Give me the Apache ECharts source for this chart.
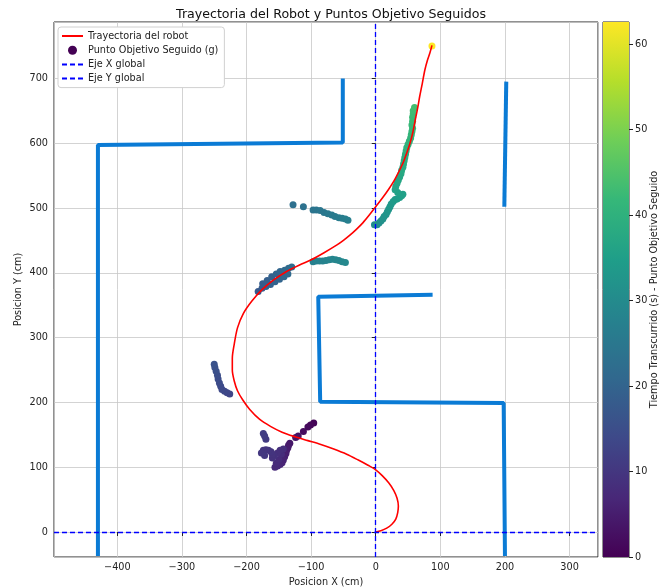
<!DOCTYPE html>
<html lang="es">

<head>
  <meta charset="UTF-8">
  <title>Trayectoria del Robot</title>
  <style>
    html, body { margin: 0; padding: 0; background: #fff; }
    #chart { width: 660px; height: 587px; }
  </style>
  <script src="https://cdn.jsdelivr.net/npm/echarts@6/dist/echarts.min.js"></script>
</head>

<body>
  <div id="chart"></div>
  <script>
    // trayectoria del robot (cm)
    var trajX = [0, 8, 17, 25, 31, 34, 35, 33, 28, 20, 10, 0, -12, -27, -45, -65, -85, -105, -125, -145, -163, -180, -195, -206, -214, -219, -222, -222, -219, -214, -205, -192, -176, -158, -138, -118, -100, -80, -60, -50, -40, -30, -20, -10, 0, 10, 20, 30, 42, 48, 53, 57, 61, 65, 68, 72, 76, 80, 84, 87];
    var trajY = [0, 2, 6, 12, 20, 30, 40, 52, 64, 76, 87, 96, 103, 111, 120, 128, 135, 141, 147, 154, 163, 174, 189, 204, 218, 233, 250, 268, 290, 315, 337, 356, 374, 389, 402, 412, 420, 431, 443, 450, 458, 467, 477, 489, 502, 515, 529, 545, 569, 585, 600, 615, 635, 655, 672, 692, 713, 728, 740, 751];

    // puntos objetivo seguidos: x, y, tiempo (s)
    var ptsX = [-96, -101, -105, -112, -120, -124, -133, -135, -136, -138, -139, -141, -143, -145, -148, -152, -156, -154, -150, -146, -143, -148, -152, -157, -160, -160, -162, -166, -170, -174, -177, -172, -170, -172, -174,
      -226, -230, -234, -238, -240, -242, -244, -245, -247, -249, -250,
      -182, -176, -175, -170, -168, -163, -161, -156, -154, -149, -148, -142, -141, -136, -135, -130,
      -128, -112, -97, -92, -86, -80, -74, -68, -63, -57, -52, -47, -43,
      -97, -92, -87, -82, -77, -72, -67, -62, -57, -52, -47,
      -2, 2, 5, 8, 11, 13, 16, 18, 20, 22, 24, 27, 30, 33, 37, 40, 42, 34, 30, 31, 33, 35, 37, 39, 40, 42, 43, 44, 45, 46, 47, 48, 50, 52, 54, 55, 56, 57, 56, 57, 57, 58, 58, 60,
      87];
    var ptsY = [168, 165, 162, 155, 148, 146, 137, 134, 130, 126, 121, 116, 111, 107, 104, 102, 100, 106, 112, 120, 128, 126, 122, 118, 114, 120, 124, 126, 127, 126, 122, 118, 143, 148, 152,
      213, 215, 217, 220, 225, 230, 236, 242, 248, 254, 259,
      371, 376, 383, 379, 388, 382, 394, 386, 398, 390, 402, 394, 404, 398, 407, 409,
      505, 502, 497, 497, 496, 493, 491, 489, 487, 485, 484, 483, 481,
      417, 418, 418, 418, 419, 420, 421, 420, 419, 417, 416,
      474, 474, 477, 480, 483, 487, 490, 494, 498, 502, 506, 510, 513, 514, 516, 519, 521, 524, 528, 533, 538, 543, 548, 553, 558, 563, 568, 573, 578, 583, 588, 593, 598, 603, 608, 613, 618, 623, 628, 634, 640, 645, 650, 655,
      750];
    var ptsT = [0.5, 1.0, 1.5, 2.2, 3.0, 3.4, 4.0, 4.3, 4.6, 5.0, 5.3, 5.6, 6.0, 6.3, 6.6, 7.0, 7.3, 7.6, 7.8, 8.0, 8.2, 8.4, 8.6, 8.8, 9.0, 9.2, 9.4, 9.6, 9.8, 10.0, 10.2, 10.4, 10.8, 11.1, 11.4,
      13.0, 13.3, 13.6, 13.9, 14.2, 14.5, 14.8, 15.1, 15.4, 15.7, 16.0,
      17.5, 18.0, 18.2, 18.6, 18.9, 19.2, 19.4, 19.7, 19.9, 20.3, 20.5, 20.9, 21.1, 21.5, 21.6, 22.0,
      23.0, 23.6, 24.2, 24.4, 24.7, 25.0, 25.3, 25.6, 25.9, 26.2, 26.5, 26.8, 27.0,
      27.3, 27.5, 27.7, 27.9, 28.1, 28.3, 28.5, 28.7, 28.9, 29.1, 29.3,
      30.5, 30.8, 31.1, 31.4, 31.7, 32.0, 32.3, 32.6, 32.9, 33.2, 33.5, 33.8, 34.1, 34.4, 34.7, 35.0, 35.3, 35.6, 35.9, 36.2, 36.5, 36.8, 37.1, 37.4, 37.7, 38.0, 38.3, 38.6, 38.9, 39.2, 39.5, 39.8, 40.1, 40.4, 40.7, 41.0, 41.3, 41.6, 41.9, 42.2, 42.5, 42.8, 43.1, 43.4,
      62.6];

    // paredes
    var wallA = [[-430, -37], [-430, 597], [-51, 601], [-51, 700]];
    var wallB = [[88, 366], [-89, 363], [-86, 201], [198, 199], [200, -37]];
    var wallC = [[202, 695], [199, 502]];

    var tMax = 62.6;
    var viridis = ['#440154', '#482878', '#3e4989', '#31688e', '#26828e', '#1f9e89', '#35b779', '#6ece58', '#b5de2b', '#fde725'];

    var chart = echarts.init(document.getElementById('chart'));
    var font = 'DejaVu Sans';
    var fs = 9.7;

    var trajData = trajX.map(function (x, i) { return [x, trajY[i]]; });
    var ptsData = ptsX.map(function (x, i) { return [x, ptsY[i], ptsT[i]]; });

    function wall(pts) {
      return {
        type: 'line', data: pts, symbol: 'none', z: 1, silent: true,
        lineStyle: { color: '#0b7bd5', width: 4 }
      };
    }

    var noMark = { color: 'rgba(0,0,0,0)', opacity: 0, borderWidth: 0 };

    var option = {
      animation: false,
      textStyle: { fontFamily: font },
      title: {
        text: 'Trayectoria del Robot y Puntos Objetivo Seguidos',
        left: 326, top: 3, textAlign: 'center',
        textStyle: { fontFamily: font, fontSize: 12.6, fontWeight: 'normal', color: '#111' }
      },
      legend: {
        orient: 'vertical', left: 58, top: 27,
        data: [
          { name: 'Trayectoria del robot', itemStyle: noMark },
          { name: 'Punto Objetivo Seguido (g)', icon: 'circle' },
          { name: 'Eje X global', itemStyle: noMark },
          { name: 'Eje Y global', itemStyle: noMark }
        ],
        backgroundColor: '#fff', borderColor: '#d0d0d0', borderWidth: 1, borderRadius: 3,
        padding: [4, 6, 4, 3], itemGap: 4.2, itemWidth: 21, itemHeight: 9,
        textStyle: { fontFamily: font, fontSize: fs, color: '#222' }
      },
      visualMap: {
        type: 'continuous', show: false, min: 0, max: tMax, dimension: 2, seriesIndex: 3,
        inRange: { color: viridis }
      },
      grid: [
        { left: 54, right: 62, top: 22, bottom: 30, show: true, borderColor: '#222', borderWidth: 1, containLabel: false, outerBoundsMode: 'none' },
        { left: 603, width: 26, top: 22, bottom: 30, show: true, borderColor: '#222', borderWidth: 1, containLabel: false, outerBoundsMode: 'none' }
      ],
      xAxis: [
        {
          type: 'value', gridIndex: 0, min: -498, max: 344, splitNumber: 8, minInterval: 100, maxInterval: 100,
          name: 'Posicion X (cm)', nameLocation: 'middle', nameGap: 20,
          nameTextStyle: { fontFamily: font, fontSize: fs, color: '#222' },
          axisLine: { show: false },
          axisTick: { show: true, length: 4, lineStyle: { color: '#222' } },
          axisLabel: { showMinLabel: false, showMaxLabel: false, fontSize: fs, color: '#222', margin: 5,
            formatter: function (v) { return String(v).replace('-', '\u2212'); } },
          splitLine: { show: true, lineStyle: { color: '#c8c8c8', width: 0.8 } }
        },
        { type: 'category', gridIndex: 1, data: [''], show: false }
      ],
      yAxis: [
        {
          type: 'value', gridIndex: 0, min: -38.6, max: 787, splitNumber: 8, minInterval: 100, maxInterval: 100,
          name: 'Posicion Y (cm)', nameLocation: 'middle', nameGap: 31, nameRotate: 90, nameMoveOverlap: false,
          nameTextStyle: { fontFamily: font, fontSize: fs, color: '#222' },
          axisLine: { show: false },
          axisTick: { show: true, length: 4, lineStyle: { color: '#222' } },
          axisLabel: { showMinLabel: false, showMaxLabel: false, fontSize: fs, color: '#222', margin: 6 },
          splitLine: { show: true, lineStyle: { color: '#c8c8c8', width: 0.8 } }
        },
        {
          type: 'value', gridIndex: 1, position: 'right', min: 0, max: tMax, interval: 10,
          name: 'Tiempo Transcurrido (s) - Punto Objetivo Seguido', nameLocation: 'middle', nameGap: 20, nameRotate: 90, nameMoveOverlap: false,
          nameTextStyle: { fontFamily: font, fontSize: fs, color: '#222' },
          axisLine: { show: false },
          axisTick: { show: true, length: 4, lineStyle: { color: '#222' } },
          axisLabel: { showMaxLabel: false, fontSize: fs, color: '#222', margin: 6 },
          splitLine: { show: false }
        }
      ],
      series: [
        wall(wallA), wall(wallB), wall(wallC),
        {
          name: 'Punto Objetivo Seguido (g)', type: 'scatter', data: ptsData,
          symbolSize: 7, z: 2, itemStyle: { color: '#440154', opacity: 1 }
        },
        {
          name: 'Trayectoria del robot', type: 'line', data: trajData, smooth: 0.3,
          symbol: 'none', z: 3, lineStyle: { color: '#ff0000', width: 1.6 }, itemStyle: { color: '#ff0000' }
        },
        {
          name: 'Eje X global', type: 'line', data: [], symbol: 'none', z: 4,
          lineStyle: { color: '#0000ff', width: 1.3, type: [5, 3] }, itemStyle: { color: '#0000ff' },
          markLine: { silent: true, symbol: 'none', label: { show: false },
            lineStyle: { color: '#0000ff', width: 1.3, type: [5, 3] }, data: [{ yAxis: 0 }] }
        },
        {
          name: 'Eje Y global', type: 'line', data: [], symbol: 'none', z: 4,
          lineStyle: { color: '#0000ff', width: 1.3, type: [5, 3] }, itemStyle: { color: '#0000ff' },
          markLine: { silent: true, symbol: 'none', label: { show: false },
            lineStyle: { color: '#0000ff', width: 1.3, type: [5, 3] }, data: [{ xAxis: 0 }] }
        },
        {
          // barra de color
          type: 'bar', xAxisIndex: 1, yAxisIndex: 1, data: [tMax], barWidth: '100%', silent: true,
          itemStyle: {
            color: new echarts.graphic.LinearGradient(0, 1, 0, 0, viridis.map(function (c, i) {
              return { offset: i / (viridis.length - 1), color: c };
            }))
          }
        }
      ]
    };

    chart.setOption(option);
  </script>
</body>

</html>
